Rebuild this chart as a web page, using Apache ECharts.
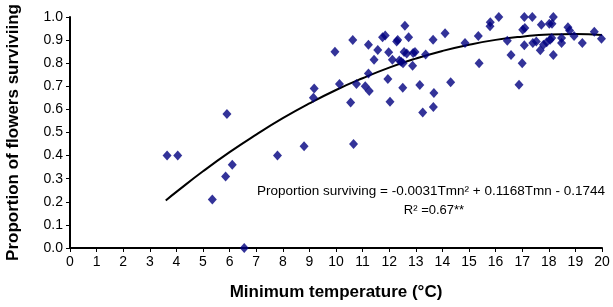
<!DOCTYPE html>
<html>
<head>
    <meta charset="utf-8">
    <script src="https://cdn.jsdelivr.net/npm/echarts@6/dist/echarts.min.js"></script>
    <style>
        html, body { margin: 0; padding: 0; background: #fff; }
    </style>
</head>
<body>
<div id="main" style="width: 613px;height:307px;"></div>
<script type="text/javascript">
    // observed points: [min temperature, proportion surviving]
    var obsPoints = [
        [3.65,0.40],[4.05,0.40],[5.35,0.21],[5.85,0.31],[5.9,0.58],[6.1,0.36],[6.55,0.0],[7.8,0.40],[8.8,0.44],
        [9.15,0.65],[9.18,0.69],[9.96,0.85],[10.13,0.71],[10.55,0.63],[10.63,0.90],[10.66,0.45],[10.77,0.71],
        [11.1,0.70],[11.22,0.88],[11.22,0.755],[11.25,0.68],[11.43,0.815],[11.57,0.857],[11.75,0.912],[11.85,0.92],
        [11.95,0.732],[11.98,0.847],[12.03,0.633],[12.12,0.815],[12.28,0.894],[12.32,0.90],[12.38,0.812],[12.45,0.806],
        [12.52,0.80],[12.51,0.694],[12.56,0.848],[12.59,0.962],[12.66,0.842],[12.73,0.912],[12.88,0.789],[12.9,0.844],
        [12.97,0.849],[13.15,0.706],[13.26,0.587],[13.37,0.838],[13.65,0.902],[13.66,0.61],[13.68,0.671],[14.1,0.93],
        [14.31,0.718],[14.85,0.887],[15.35,0.918],[15.38,0.80],[15.79,0.96],[15.8,0.977],[16.12,1.0],[16.44,0.897],
        [16.58,0.836],[16.88,0.707],[17.0,0.80],[17.02,0.945],[17.1,0.952],[17.08,1.0],[17.08,0.878],[17.38,1.0],
        [17.4,0.887],[17.53,0.894],[17.68,0.856],[17.72,0.966],[17.8,0.88],[17.92,0.891],[18.02,0.971],[18.05,0.902],
        [18.11,0.909],[18.12,0.971],[18.17,1.0],[18.17,0.835],[18.48,0.909],[18.48,0.887],[18.72,0.956],[18.78,0.942],
        [18.95,0.918],[19.26,0.887],[19.71,0.936],[19.98,0.906]
    ];
    // trend line
    var trendX = [3.6, 4, 5, 6, 7, 8, 9, 10, 11, 12, 13, 14, 15, 16, 17, 18, 19, 20];
    var trendY = [0.206, 0.243, 0.332, 0.415, 0.491, 0.562, 0.626, 0.684, 0.735, 0.781, 0.820, 0.853, 0.880, 0.901, 0.915, 0.924, 0.926, 0.922];
    var equationText = 'Proportion surviving = -0.0031Tmn² + 0.1168Tmn - 0.1744';
    var r2Text = 'R² =0.67**';

    var trendData = [];
    for (var i = 0; i < trendX.length; i++) {
        trendData.push([trendX[i], trendY[i]]);
    }

    var myChart = echarts.init(document.getElementById('main'));
    var font = '"Liberation Sans", Arial, sans-serif';
    var option = {
        animation: false,
        grid: { left: 70, right: 11, top: 17, bottom: 59, outerBoundsMode: 'none' },
        xAxis: {
            type: 'value',
            min: 0, max: 20, interval: 1,
            name: 'Minimum temperature (°C)',
            nameLocation: 'middle',
            nameGap: 36,
            nameTextStyle: { fontFamily: font, fontSize: 17, fontWeight: 'bold', color: '#000' },
            axisLine: { lineStyle: { color: '#000', width: 2 } },
            axisTick: { show: true, length: 4, lineStyle: { color: '#000', width: 1 } },
            axisLabel: { fontFamily: font, fontSize: 14, color: '#000', margin: 7 },
            splitLine: { show: false }
        },
        yAxis: {
            type: 'value',
            min: 0, max: 1, interval: 0.1,
            name: 'Proportion of flowers surviviing',
            nameLocation: 'middle',
            nameGap: 48,
            nameTextStyle: { fontFamily: font, fontSize: 17, fontWeight: 'bold', color: '#000' },
            axisLine: { show: true, lineStyle: { color: '#000', width: 2 } },
            axisTick: { show: true, length: 4, lineStyle: { color: '#000', width: 1 } },
            axisLabel: { fontFamily: font, fontSize: 14, color: '#000', margin: 7,
                formatter: function (v) { return v.toFixed(1); } },
            splitLine: { show: false }
        },
        series: [
            {
                name: 'observed',
                type: 'scatter',
                symbol: 'diamond',
                symbolSize: [9, 10],
                itemStyle: { color: '#000080' },
                data: obsPoints,
                z: 3
            },
            {
                name: 'trend',
                type: 'line',
                symbol: 'none',
                smooth: true,
                lineStyle: { color: '#000', width: 2 },
                data: trendData,
                z: 2
            }
        ],
        graphic: [
            {
                type: 'text', x: 431, y: 191,
                style: { text: equationText, textAlign: 'center', textVerticalAlign: 'middle', font: '13.5px ' + font, fill: '#000' }
            },
            {
                type: 'text', x: 434, y: 210,
                style: { text: r2Text, textAlign: 'center', textVerticalAlign: 'middle', font: '13px ' + font, fill: '#000' }
            }
        ]
    };
    myChart.setOption(option);
</script>
</body>
</html>
